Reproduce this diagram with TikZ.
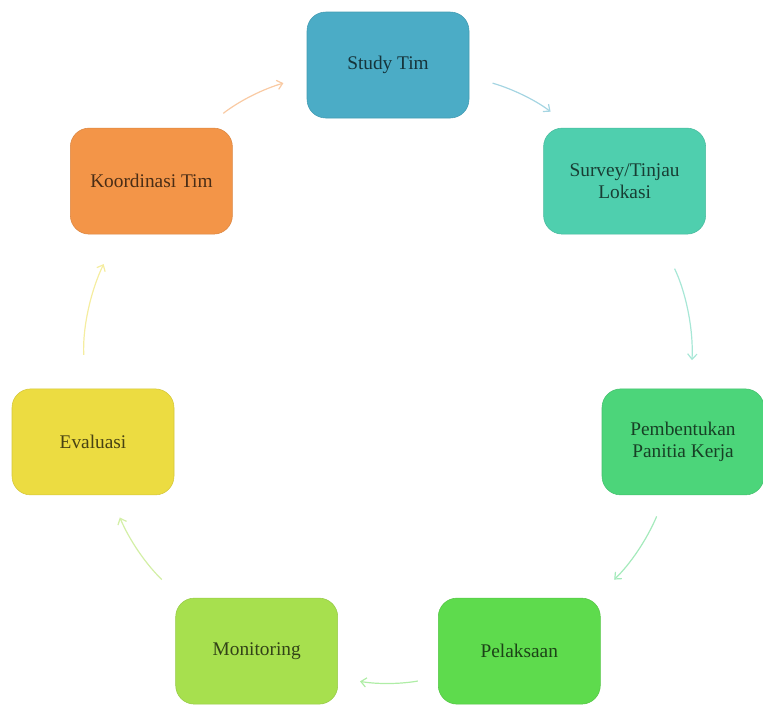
\documentclass[tikz,border=0pt]{standalone}
\usepackage{fontspec}
\setmainfont{Liberation Serif}
\usepackage{xcolor}
\usepackage{tikz}
\usetikzlibrary{arrows.meta}
\definecolor{studyc}{HTML}{4BACC6}
\definecolor{surveyc}{HTML}{4FCFAE}
\definecolor{pembc}{HTML}{4CD57A}
\definecolor{pelakc}{HTML}{5EDB4D}
\definecolor{monc}{HTML}{A7E04E}
\definecolor{evalc}{HTML}{ECDC41}
\definecolor{koordc}{HTML}{F39548}
\newcommand{\stagefont}{\fontsize{14.5}{16.5}\selectfont}
\tikzset{
  stage/.style={draw=#1!90!black, fill=#1, line width=0.4pt, rounded corners=14pt,
    minimum width=121.5pt, minimum height=79.5pt, inner sep=2pt, outer sep=0pt,
    align=center, font=\stagefont, text=#1!30!black},
  cyc/.style={draw=#1!50!white, line width=0.9pt, -{Straight Barb[length=4pt,width=7pt]}},
}

\begin{document}
\begin{tikzpicture}[x=0.75pt, y=-0.75pt]
\useasboundingbox (0,0) rectangle (763,704);
\node[stage=studyc] (study) at (388,65) {Study Tim};
\node[stage=surveyc] (survey) at (624.6,181.1) {Survey/Tinjau\\Lokasi};
\node[stage=pembc] (pemb) at (683,441.9) {Pembentukan\\Panitia Kerja};
\node[stage=pelakc] (pelak) at (519.3,651.1) {Pelaksaan};
\node[stage=monc] (mon) at (256.7,651.1) {Monitoring};
\node[stage=evalc] (eval) at (93,441.9) {Evaluasi};
\node[stage=koordc] (koord) at (151.4,181.1) {Koordinasi Tim};
\draw[cyc=studyc, shorten <=18.4pt, shorten >=20pt] (study.-8) to[out=-16, in=142] (survey.135);
\draw[cyc=surveyc, shorten <=28.8pt, shorten >=21.6pt] (survey.-58) to[out=-64, in=87] (pemb.82);
\draw[cyc=pembc, shorten <=17.5pt, shorten >=20pt] (pemb.-108) to[out=-113, in=44] (pelak.35);
\draw[cyc=pelakc, shorten <=15.6pt, shorten >=17pt] (pelak.198) to[out=190, in=-10] (mon.-18);
\draw[cyc=monc, shorten <=20pt, shorten >=18.4pt] (mon.145) to[out=136, in=-67] (eval.-72);
\draw[cyc=evalc, shorten <=25.5pt, shorten >=25pt] (eval.98) to[out=93, in=-116] (koord.-122);
\draw[cyc=koordc, shorten <=18pt, shorten >=18.4pt] (koord.45) to[out=38, in=196] (study.188);
\end{tikzpicture}
\end{document}
